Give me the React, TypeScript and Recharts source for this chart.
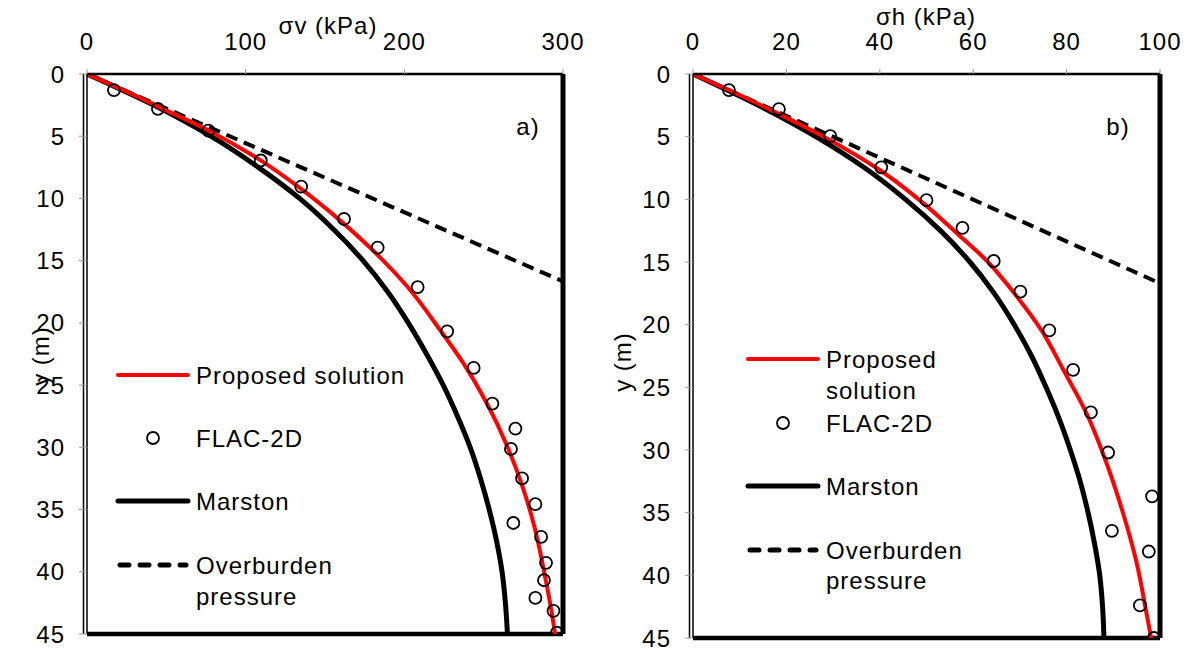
import {
  ComposedChart,
  Label,
  Legend,
  Line,
  ReferenceLine,
  Scatter,
  XAxis,
  YAxis,
} from "recharts";

type Pt = { y: number; s: number };

const FONT = "'Liberation Sans', Arial, sans-serif";

const depthTicks = [0, 5, 10, 15, 20, 25, 30, 35, 40, 45];
const svTicks = [0, 100, 200, 300];
const shTicks = [0, 20, 40, 60, 80, 100];

// panel a) vertical stress, depth y (m) vs sigma (kPa)
const proposedV: Pt[] = [
  { y: 0, s: 0 }, { y: 1.3, s: 23 }, { y: 2.8, s: 48 }, { y: 4.5, s: 76 },
  { y: 6.9, s: 109 }, { y: 8.95, s: 132 }, { y: 11.6, s: 158 }, { y: 13.9, s: 178 },
  { y: 17.1, s: 202 }, { y: 20.65, s: 223 }, { y: 23.2, s: 237 }, { y: 26.46, s: 252 },
  { y: 29.95, s: 265 }, { y: 33.16, s: 274.5 }, { y: 36.38, s: 282 }, { y: 40.12, s: 288.3 },
  { y: 43.34, s: 293 }, { y: 45, s: 295 },
];
const marstonV: Pt[] = [
  { y: 0, s: 0 }, { y: 2.5, s: 42 }, { y: 5, s: 78 }, { y: 7.5, s: 108 },
  { y: 10, s: 134 }, { y: 12.5, s: 155.5 }, { y: 15, s: 174 }, { y: 17.5, s: 189.5 },
  { y: 20, s: 202.5 }, { y: 22.5, s: 214 }, { y: 25, s: 224.5 }, { y: 27.5, s: 233.5 },
  { y: 30, s: 241.5 }, { y: 32.5, s: 248 }, { y: 35, s: 253.5 }, { y: 37.5, s: 258.1 },
  { y: 40, s: 261.6 }, { y: 42.5, s: 263.7 }, { y: 45, s: 265 },
];
const overburdenV: Pt[] = [{ y: 0, s: 0 }, { y: 16.67, s: 300 }];
const flacV: Pt[] = [
  { y: 1.29, s: 17 }, { y: 2.8, s: 44.7 }, { y: 4.55, s: 76.5 }, { y: 6.95, s: 109.5 },
  { y: 9.05, s: 135 }, { y: 11.65, s: 162 }, { y: 13.95, s: 183.2 }, { y: 17.12, s: 208.4 },
  { y: 20.68, s: 227 }, { y: 23.62, s: 243.7 }, { y: 26.48, s: 255.5 }, { y: 28.5, s: 270 },
  { y: 30.13, s: 267.2 }, { y: 32.5, s: 274.2 }, { y: 34.57, s: 282.6 }, { y: 36.08, s: 268.7 },
  { y: 37.2, s: 286.2 }, { y: 39.28, s: 289.3 }, { y: 40.68, s: 288 }, { y: 42.1, s: 282.6 },
  { y: 43.14, s: 294 }, { y: 44.9, s: 296.1 },
];

// panel b) horizontal stress
const proposedH: Pt[] = [
  { y: 0, s: 0 }, { y: 1.3, s: 7.8 }, { y: 2.8, s: 16.3 }, { y: 5, s: 28 },
  { y: 7.66, s: 40 }, { y: 10.3, s: 49.3 }, { y: 12.7, s: 56.5 }, { y: 14.9, s: 62.9 },
  { y: 17.4, s: 68.6 }, { y: 20.5, s: 74.7 }, { y: 23.6, s: 79.3 }, { y: 27.1, s: 84.3 },
  { y: 31.1, s: 88.6 }, { y: 35.05, s: 92.1 }, { y: 39, s: 95 }, { y: 43, s: 97.1 },
  { y: 45, s: 98.1 },
];
const marstonH: Pt[] = [
  { y: 0, s: 0 }, { y: 2.5, s: 14 }, { y: 5, s: 26.3 }, { y: 7.5, s: 36.8 },
  { y: 10, s: 45.5 }, { y: 12.5, s: 53 }, { y: 15, s: 59.3 }, { y: 17.5, s: 64.5 },
  { y: 20, s: 68.8 }, { y: 22.5, s: 72.5 }, { y: 25, s: 75.6 }, { y: 27.5, s: 78.4 },
  { y: 30, s: 80.8 }, { y: 32.5, s: 82.9 }, { y: 35, s: 84.6 }, { y: 37.5, s: 86 },
  { y: 40, s: 87.1 }, { y: 42.5, s: 87.7 }, { y: 45, s: 88 },
];
const overburdenH: Pt[] = [{ y: 0, s: 0 }, { y: 16.7, s: 100 }];
const flacH: Pt[] = [
  { y: 1.28, s: 7.7 }, { y: 2.8, s: 18.4 }, { y: 4.95, s: 29.4 }, { y: 7.45, s: 40.3 },
  { y: 10.07, s: 50 }, { y: 12.27, s: 57.7 }, { y: 14.92, s: 64.4 }, { y: 17.37, s: 70.1 },
  { y: 20.46, s: 76.3 }, { y: 23.6, s: 81.4 }, { y: 27.0, s: 85.2 }, { y: 30.2, s: 88.9 },
  { y: 33.7, s: 98.3 }, { y: 36.45, s: 89.7 }, { y: 38.1, s: 97.6 }, { y: 42.4, s: 95.7 },
  { y: 45.0, s: 98.7 },
];

const txt = { fontFamily: FONT, fontSize: 24, fill: "#000", letterSpacing: 1 };

type LegendRow = { kind: "red" | "dot" | "black" | "dash" | "text"; y: number; label: string };

function LegendBox({ rows }: { rows: LegendRow[] }) {
  return (
    <svg width={330} height={270} style={{ overflow: "visible" }}>
      {rows.map((r, i) => (
        <g key={i}>
          {r.kind === "red" && (
            <line x1={8} x2={78} y1={r.y} y2={r.y} stroke="#ff0000" strokeWidth={4} strokeLinecap="round" />
          )}
          {r.kind === "black" && (
            <line x1={8} x2={78} y1={r.y} y2={r.y} stroke="#000" strokeWidth={5} strokeLinecap="round" />
          )}
          {r.kind === "dash" && (
            <line
              x1={10}
              x2={76}
              y1={r.y}
              y2={r.y}
              stroke="#000"
              strokeWidth={5}
              strokeLinecap="round"
              strokeDasharray="9 11"
            />
          )}
          {r.kind === "dot" && <circle cx={43} cy={r.y} r={6} fill="#fff" stroke="#000" strokeWidth={1.8} />}
          <text x={86} y={r.y + 8.5} {...txt}>
            {r.label}
          </text>
        </g>
      ))}
    </svg>
  );
}

type PanelProps = {
  width: number;
  margin: { top: number; right: number; bottom: number; left: number };
  xMax: number;
  xTicks: number[];
  proposed: Pt[];
  marston: Pt[];
  overburden: Pt[];
  flac: Pt[];
  xTitle: string;
  xTitlePos: [number, number];
  tag: string;
  tagPos: [number, number];
  yTitlePos: [number, number];
  legendPos: { left: number; top: number };
  legendRows: LegendRow[];
};

function Panel(p: PanelProps) {
  return (
    <ComposedChart width={p.width} height={652} layout="vertical" margin={p.margin}>
      <XAxis
        type="number"
        dataKey="s"
        orientation="top"
        domain={[0, p.xMax]}
        ticks={p.xTicks}
        allowDataOverflow
        height={30}
        tickSize={5}
        tickMargin={19}
        tick={txt}
        axisLine={{ stroke: "#000", strokeWidth: 2.5 }}
        tickLine={{ stroke: "#999" }}
      >
        <Label
          content={() => (
            <g>
              <text x={p.xTitlePos[0]} y={p.xTitlePos[1]} textAnchor="middle" {...txt}>
                {p.xTitle}
              </text>
              <text x={p.tagPos[0]} y={p.tagPos[1]} textAnchor="middle" {...txt}>
                {p.tag}
              </text>
            </g>
          )}
        />
      </XAxis>
      <YAxis
        type="number"
        dataKey="y"
        domain={[0, 45]}
        ticks={depthTicks}
        allowDataOverflow
        width={60}
        tickSize={8}
        tickMargin={14}
        tick={txt}
        axisLine={{ stroke: "#000", strokeWidth: 1.5 }}
        tickLine={{ stroke: "#999" }}
      >
        <Label
          content={() => (
            <text
              x={p.yTitlePos[0]}
              y={p.yTitlePos[1]}
              textAnchor="middle"
              dominantBaseline="central"
              transform={`rotate(-90, ${p.yTitlePos[0]}, ${p.yTitlePos[1]})`}
              {...txt}
            >
              y (m)
            </text>
          )}
        />
      </YAxis>
      <ReferenceLine
        x={0}
        stroke="#000"
        strokeWidth={1.5}
        shape={(s: any) => (
          <line x1={s.x1 - 3.5} x2={s.x2 - 3.5} y1={s.y1} y2={s.y2} stroke="#000" strokeWidth={1.5} />
        )}
      />
      <ReferenceLine x={p.xMax} stroke="#000" strokeWidth={5} />
      <ReferenceLine y={45} stroke="#000" strokeWidth={4.5} />
      <Line
        data={p.overburden}
        dataKey="s"
        type="linear"
        stroke="#000"
        strokeWidth={4}
        strokeDasharray="12 7"
        dot={false}
        isAnimationActive={false}
      />
      <Line
        data={p.marston}
        dataKey="s"
        type="monotone"
        stroke="#000"
        strokeWidth={5}
        dot={false}
        isAnimationActive={false}
      />
      <Line
        data={p.proposed}
        dataKey="s"
        type="monotone"
        stroke="#ff0000"
        strokeWidth={4}
        dot={false}
        isAnimationActive={false}
      />
      <Scatter
        data={p.flac}
        isAnimationActive={false}
        shape={(s: any) => (
          <circle cx={s.cx} cy={s.cy} r={6} fill="none" stroke="#000" strokeWidth={1.8} />
        )}
      />
      <Legend
        layout="vertical"
        align="center"
        verticalAlign="middle"
        width={330}
        height={270}
        wrapperStyle={{ position: "absolute", left: p.legendPos.left, top: p.legendPos.top, width: 330, height: 270 }}
        content={() => <LegendBox rows={p.legendRows} />}
      />
    </ComposedChart>
  );
}

export default function App() {
  return (
    <div
      style={{
        position: "absolute",
        left: 0,
        top: 0,
        width: 1187,
        height: 652,
        background: "#fff",
        fontFamily: FONT,
      }}
    >
      <div style={{ position: "absolute", left: 0, top: 0 }}>
        <Panel
          width={600}
          margin={{ top: 44, right: 37, bottom: 18, left: 27 }}
          xMax={300}
          xTicks={svTicks}
          proposed={proposedV}
          marston={marstonV}
          overburden={overburdenV}
          flac={flacV}
          xTitle="σv (kPa)"
          xTitlePos={[328, 34]}
          tag="a)"
          tagPos={[528, 135]}
          yTitlePos={[40, 356]}
          legendPos={{ left: 110, top: 350 }}
          legendRows={[
            { kind: "red", y: 25, label: "Proposed solution" },
            { kind: "dot", y: 88, label: "FLAC-2D" },
            { kind: "black", y: 151, label: "Marston" },
            { kind: "dash", y: 215, label: "Overburden" },
            { kind: "text", y: 246, label: "pressure" },
          ]}
        />
      </div>
      <div style={{ position: "absolute", left: 600, top: 0 }}>
        <Panel
          width={587}
          margin={{ top: 44, right: 27, bottom: 14, left: 33 }}
          xMax={100}
          xTicks={shTicks}
          proposed={proposedH}
          marston={marstonH}
          overburden={overburdenH}
          flac={flacH}
          xTitle="σh (kPa)"
          xTitlePos={[326, 25]}
          tag="b)"
          tagPos={[518, 135]}
          yTitlePos={[22, 362]}
          legendPos={{ left: 140, top: 334 }}
          legendRows={[
            { kind: "red", y: 25, label: "Proposed" },
            { kind: "text", y: 56, label: "solution" },
            { kind: "dot", y: 89, label: "FLAC-2D" },
            { kind: "black", y: 152, label: "Marston" },
            { kind: "dash", y: 216, label: "Overburden" },
            { kind: "text", y: 246, label: "pressure" },
          ]}
        />
      </div>
    </div>
  );
}
